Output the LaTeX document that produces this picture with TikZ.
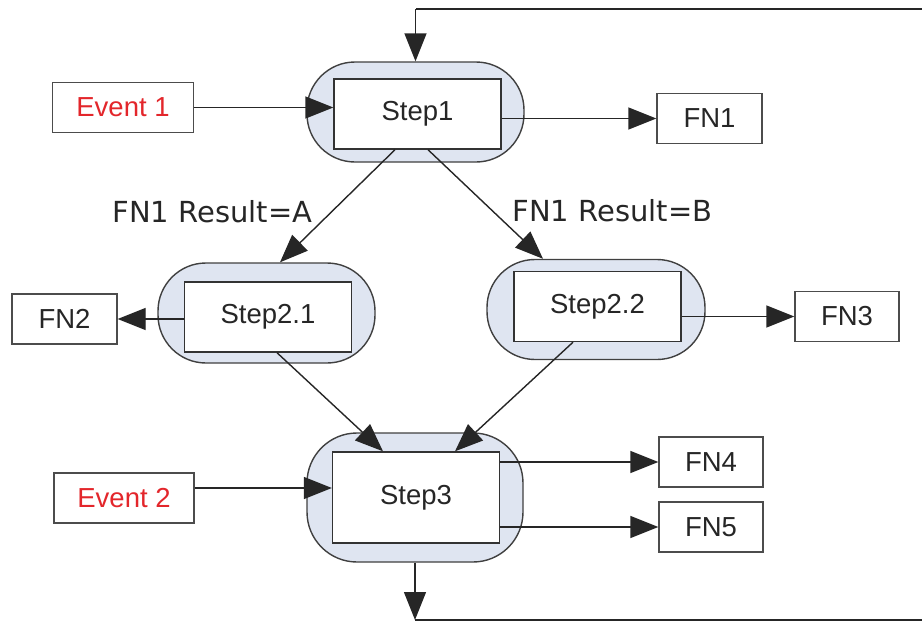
\documentclass[tikz,border=0pt]{standalone}
\usepackage{fontspec}
\setmainfont{Liberation Sans}
\newfontfamily\resultfont{DejaVu Sans}
\usetikzlibrary{arrows.meta}

\definecolor{stepfill}{HTML}{DFE5F1}
\definecolor{eventred}{HTML}{E3262B}

\tikzset{
	flow/.style={line width=1.4pt, draw=black!85},
	arr/.style={flow, -{Triangle[length=28pt,width=22pt]}},
	fnbox/.style={draw=black!70, line width=1.4pt, fill=white, minimum width=104pt, minimum height=50pt, inner sep=0pt, font=\fontsize{27.5}{33}\selectfont, text=black!85},
	evbox/.style={fnbox, minimum width=141pt, text=eventred},
	stepbox/.style={draw=black!80, line width=1.4pt, fill=white, minimum width=167pt, minimum height=70pt, inner sep=0pt, font=\fontsize{27.5}{33}\selectfont, text=black!85},
	stepbg/.style={draw=black!75, line width=1.4pt, fill=stepfill, rounded corners=48pt, minimum width=217pt, minimum height=100pt},
	resultlbl/.style={font=\resultfont\fontsize{29}{34}\selectfont, text=black!85, anchor=base, inner sep=0pt}
}

\begin{document}
\begin{tikzpicture}[x=1pt, y=-1pt]
			%%%%% START %%%%%
			\useasboundingbox (0,0) rectangle (922,624);
			\clip (0,0) rectangle (922,624);
			
			% step containers
			\node[stepbg] (s1o) at (415.5,112) {};
			\node[stepbg] (s21o) at (266.5,313) {};
			\node[stepbg, minimum width=218pt] (s22o) at (596,309.5) {};
			\node[stepbg, minimum width=216pt, minimum height=129pt, rounded corners=50pt] (s3o) at (415,497.5) {};
			
			% steps
			\node[stepbox] (s1) at (417.5,114) {Step1};
			\node[stepbox] (s21) at (268,317) {Step2.1};
			\node[stepbox] (s22) at (597.5,306.5) {Step2.2};
			\node[stepbox, minimum height=91pt] (s3) at (416,497.5) {Step3};
			
			% events and functions
			\node[evbox] (ev1) at (123,107.5) {Event 1};
			\node[evbox, minimum width=140pt] (ev2) at (124,498) {Event 2};
			\node[fnbox, minimum width=105pt] (fn1) at (709.5,118.5) {FN1};
			\node[fnbox, minimum width=105pt] (fn2) at (64.5,319) {FN2};
			\node[fnbox] (fn3) at (847,316.5) {FN3};
			\node[fnbox] (fn4) at (711,462) {FN4};
			\node[fnbox] (fn5) at (711,527) {FN5};
			
			\node[resultlbl] (resA) at (212.5,222) {FN1 Result=A};
			\node[resultlbl] (resB) at (612.5,221) {FN1 Result=B};
			
			% connectors
			\coordinate (ev2out) at ([yshift=10pt]ev2.east);
			\draw[arr] (ev1.east) -- (s1.west |- ev1.east);
			\draw[arr] (s1.east |- fn1.west) -- (fn1.west);
			\draw[arr] ([xshift=-22.5pt]s1.south) -- ([xshift=13.5pt]s21o.north);
			\draw[arr] ([xshift=10.5pt]s1.south) -- ([xshift=-53pt]s22o.north);
			\draw[arr] (s21.west |- fn2.east) -- (fn2.east);
			\draw[arr] (s22.east |- fn3.west) -- (fn3.west);
			\draw[arr] ([xshift=9pt]s21.south) -- ([xshift=-33pt]s3.north);
			\draw[arr] ([xshift=-24.5pt]s22.south) -- ([xshift=39pt]s3.north);
			\draw[arr] (ev2out) -- (s3.west |- ev2out);
			\draw[arr] (s3.east |- fn4.west) -- (fn4.west);
			\draw[arr] (s3.east |- fn5.west) -- (fn5.west);
			
			% loop back to Step1
			\coordinate (loopbot) at (415,620);
			\coordinate (looptop) at (415.5,9);
			\draw[arr] (s3o.south) -- (loopbot);
			\draw[flow] (loopbot) -- ++(530,0) |- (looptop);
			\draw[arr] (looptop) -- (s1o.north);
			
			%%%%% END %%%%%
\end{tikzpicture}
\end{document}
